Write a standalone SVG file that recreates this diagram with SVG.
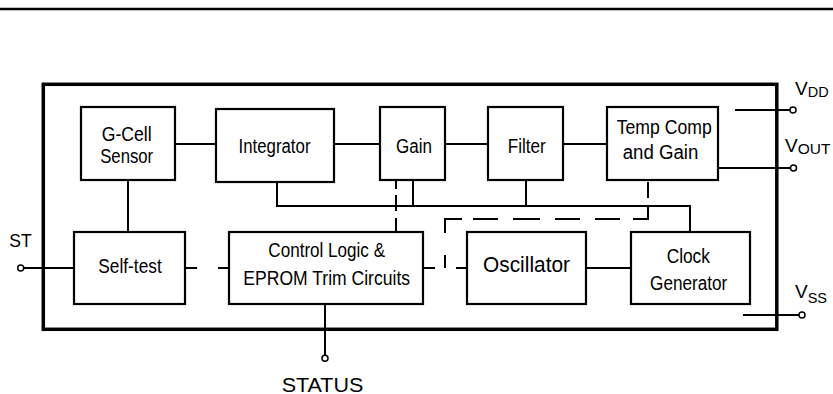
<svg xmlns="http://www.w3.org/2000/svg" width="833" height="394" viewBox="0 0 833 394">
<style>
  .box { fill: #fff; stroke: #000; stroke-width: 2.2; }
  .frame { fill: none; stroke: #000; stroke-width: 3.5; }
  .wire { fill: none; stroke: #000; stroke-width: 2; }
  .dash { fill: none; stroke: #000; stroke-width: 2; }
  .pin { fill: #fff; stroke: #000; stroke-width: 1.5; }
  text { font-family: "Liberation Sans", Arial, Helvetica, sans-serif; fill: #000; }
  .lbl { font-size: 20px; text-anchor: middle; }
</style>
<rect width="833" height="394" fill="#fff"/>
<line x1="0" y1="9" x2="833" y2="9" stroke="#000" stroke-width="2.6"/>
<rect id="chip" class="frame" x="43.3" y="84.3" width="733.5" height="245"/>

<g id="connectors">
  <path class="wire" d="M175 144 H216"/>
  <path class="wire" d="M334 144 H380"/>
  <path class="wire" d="M445 144 H488"/>
  <path class="wire" d="M563 144 H607"/>
  <path class="wire" d="M128 180 V232"/>
  <path class="wire" d="M24 268 H74"/>
  <path class="wire" d="M277 182 V206 H690 V232"/>
  <path class="wire" d="M413 180 V206"/>
  <path class="wire" d="M526 180 V206"/>
  <path class="wire" d="M586 268 H631"/>
  <path class="wire" d="M325 304 V355"/>
  <path class="wire" d="M735 110 H790"/>
  <path class="wire" d="M718 168 H790"/>
  <path class="wire" d="M743 315 H799"/>
  <path class="dash" d="M396 180 V232" stroke-dasharray="9 6 16 7 14"/>
  <path class="dash" d="M185 268 H229" stroke-dasharray="12 21 11"/>
  <path class="dash" d="M423 268 H467" stroke-dasharray="12 21 11"/>
  <path class="dash" d="M648 163 V219 H445 V268" stroke-dasharray="10 9 16 7 29 13 25 15 25 15 27 15 25 11 31 22 13"/>
</g>

<g id="gcell">
  <rect class="box" x="81" y="107" width="94" height="73"/>
  <text class="lbl" x="126.7" y="140.5" textLength="50" lengthAdjust="spacingAndGlyphs">G-Cell</text>
  <text class="lbl" x="126.7" y="162.5" textLength="53" lengthAdjust="spacingAndGlyphs">Sensor</text>
</g>
<g id="integrator">
  <rect class="box" x="216" y="109" width="118" height="73"/>
  <text class="lbl" x="274.5" y="152.5" textLength="72" lengthAdjust="spacingAndGlyphs">Integrator</text>
</g>
<g id="gain">
  <rect class="box" x="380" y="107" width="65" height="73"/>
  <text class="lbl" x="414" y="152.5" textLength="36" lengthAdjust="spacingAndGlyphs">Gain</text>
</g>
<g id="filter">
  <rect class="box" x="488" y="107" width="75" height="73"/>
  <text class="lbl" x="526.7" y="152.5" textLength="38" lengthAdjust="spacingAndGlyphs">Filter</text>
</g>
<g id="tempcomp">
  <rect class="box" x="607" y="107" width="111" height="73"/>
  <text class="lbl" x="664.2" y="133.5" textLength="95" lengthAdjust="spacingAndGlyphs">Temp Comp</text>
  <text class="lbl" x="660.5" y="159" textLength="75.7" lengthAdjust="spacingAndGlyphs">and Gain</text>
</g>
<g id="selftest">
  <rect class="box" x="74" y="232" width="111" height="72"/>
  <text class="lbl" x="130" y="273" textLength="63.4" lengthAdjust="spacingAndGlyphs">Self-test</text>
</g>
<g id="control">
  <rect class="box" x="229" y="232" width="194" height="72"/>
  <text class="lbl" x="326.7" y="257" textLength="116.7" lengthAdjust="spacingAndGlyphs">Control Logic &amp;</text>
  <text class="lbl" x="326.7" y="284.5" textLength="166.7" lengthAdjust="spacingAndGlyphs">EPROM Trim Circuits</text>
</g>
<g id="oscillator">
  <rect class="box" x="467" y="232" width="119" height="72"/>
  <text class="lbl" x="526.5" y="271.5" style="font-size:21.5px" textLength="87" lengthAdjust="spacingAndGlyphs">Oscillator</text>
</g>
<g id="clockgen">
  <rect class="box" x="631" y="232" width="119" height="72"/>
  <text class="lbl" x="688.3" y="263" textLength="43.3" lengthAdjust="spacingAndGlyphs">Clock</text>
  <text class="lbl" x="688.7" y="290" textLength="77.3" lengthAdjust="spacingAndGlyphs">Generator</text>
</g>

<g id="pin-st">
  <circle class="pin" cx="20.7" cy="268" r="3"/>
  <text x="9.3" y="246.5" style="font-size:19px" textLength="22.4" lengthAdjust="spacingAndGlyphs">ST</text>
</g>
<g id="pin-status">
  <circle class="pin" cx="325" cy="358.3" r="3"/>
  <text x="322.5" y="391.5" style="font-size:20.5px" text-anchor="middle" textLength="81.7" lengthAdjust="spacingAndGlyphs">STATUS</text>
</g>
<g id="pin-vdd">
  <circle class="pin" cx="793" cy="110" r="3"/>
  <text x="795" y="95" style="font-size:19px">V<tspan dy="2" style="font-size:14.5px">DD</tspan></text>
</g>
<g id="pin-vout">
  <circle class="pin" cx="793.5" cy="168" r="3"/>
  <text x="785" y="151.7" style="font-size:19px">V<tspan dy="2.5" style="font-size:15.5px">OUT</tspan></text>
</g>
<g id="pin-vss">
  <circle class="pin" cx="802" cy="315" r="3"/>
  <text x="795" y="298.3" style="font-size:19px">V<tspan dy="5" style="font-size:14.5px">SS</tspan></text>
</g>
</svg>
